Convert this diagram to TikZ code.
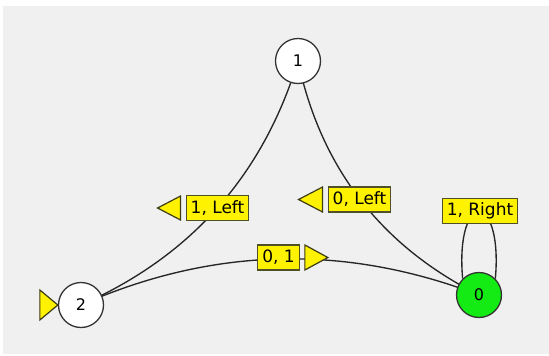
\documentclass[tikz,border=0pt]{standalone}
\usepackage{fontspec}
\setmainfont{DejaVu Sans}
\usetikzlibrary{backgrounds,calc}
\begin{document}
\begin{tikzpicture}[x=1pt,y=-1pt,
  state/.style={circle,draw=black!80,line width=1.3pt,fill=white,minimum size=45pt,inner sep=0pt,
    font=\fontsize{16}{19}\selectfont},
  accept/.style={state,fill={rgb,255:red,20;green,235;blue,20}},
  edge/.style={draw=black!85,line width=1.35pt},
  lbl/.style={draw={rgb,255:red,80;green,80;blue,40},line width=1.3pt,fill=yellow,
    inner xsep=4.5pt,inner ysep=0pt,minimum height=25pt,
    font=\fontsize{17}{20}\selectfont},
  tri/.style={draw={rgb,255:red,60;green,60;blue,20},line width=1.2pt,fill=yellow,line join=miter},
  % quadratic arc from #1 to #2 with control point #3, written as a cubic
  qarc/.style n args={3}{insert path={($(#1)!2/3!(#3)$) coordinate (qa) ($(#2)!2/3!(#3)$) coordinate (qb)
    (#1) .. controls (qa) and (qb) .. (#2)}}
]
% canvas
\useasboundingbox (0,0) rectangle (549,356);
\begin{scope}[on background layer]
  \fill[white] (0,0) rectangle (549,356);
  \fill[black!6] (3,6) rectangle (549,354);
\end{scope}

% states
\node[state]  (n1) at (298,61)  {1};
\node[state]  (n2) at (81,305)  {2};
\node[accept] (n0) at (479,295) {0};

% transitions: quadratic arcs between state centres, kept behind the states
\begin{scope}[on background layer]
  \draw[edge, qarc={n1.center}{n2.center}{245.4,232.7}];
  \draw[edge, qarc={n1.center}{n0.center}{332.3,221.5}];
  \draw[edge, qarc={n2.center}{n0.center}{278,218}];
  \draw[edge] (n0.135) .. controls (455,190) and (503,190) .. (n0.45);
\end{scope}

% transition labels
\node[lbl] (l12) at (217.5,208)  {1, Left};
\node[lbl] (l10) at (359.5,199.5) {0, Left};
\node[lbl] (l20) at (278.5,257.5) {0, 1};
\node[lbl] (l00) at (480,211)    {1, Right};

% direction markers
\draw[tri] ([xshift=-5pt]l12.west) ++(0,-12) -- ++(-23,12) -- ++(23,12) -- cycle;
\draw[tri] ([xshift=-5pt]l10.west) ++(0,-12.5) -- ++(-24,12.5) -- ++(24,12.5) -- cycle;
\draw[tri] ([xshift=5pt]l20.east) ++(0,-12.5) -- ++(23,12.5) -- ++(-23,12.5) -- cycle;

% initial-state marker
\draw[tri] (n2.west) -- ++(-18,-15) -- ++(0,30) -- cycle;
\end{tikzpicture}
\end{document}
